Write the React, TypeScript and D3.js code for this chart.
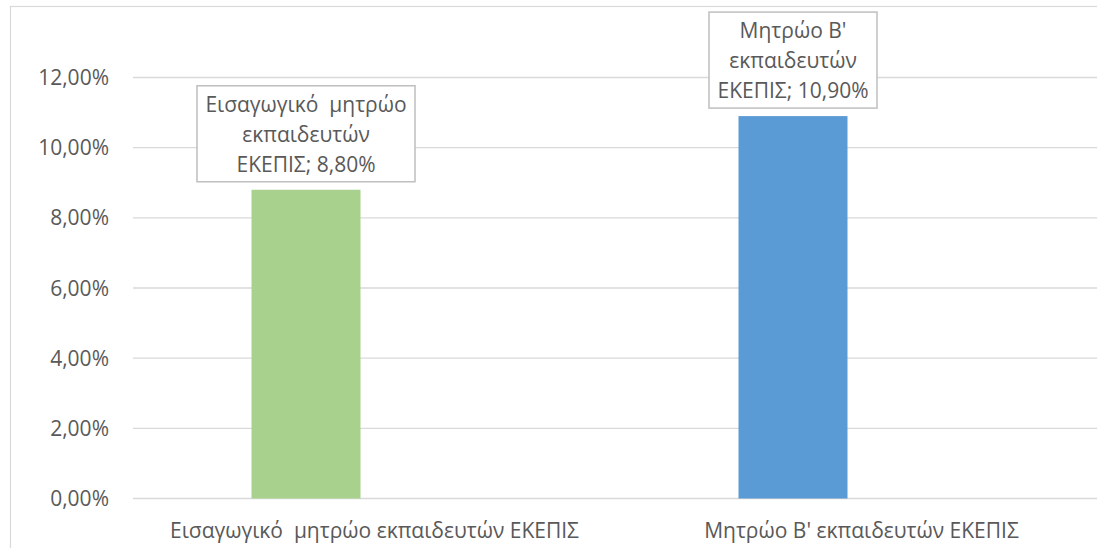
import React from "react";
import * as d3 from "d3";

const categories = ["Εισαγωγικό  μητρώο εκπαιδευτών ΕΚΕΠΙΣ", "Μητρώο B' εκπαιδευτών ΕΚΕΠΙΣ"];
const values = [0.088, 0.109];
const labelLines = [
  ["Εισαγωγικό  μητρώο", "εκπαιδευτών", "ΕΚΕΠΙΣ; 8,80%"],
  ["Μητρώο B'", "εκπαιδευτών", "ΕΚΕΠΙΣ; 10,90%"],
];
const yTicks = [0, 0.02, 0.04, 0.06, 0.08, 0.1, 0.12];
const colors = ["#A9D18E", "#5B9BD5"];

const W = 1097;
const H = 548;
const FONT = "'Open Sans', 'Segoe UI', sans-serif";
const TEXT = "#595959";
const FS = 21;

export default function App() {
  const y = d3.scaleLinear().domain([0, 0.12]).range([498.5, 77.5]);
  const x = d3.scaleBand<string>().domain(categories).range([131, 1105]).padding(0);
  const barW = 109;
  const barShift = -68.5;
  const fmt = (v: number) => (v * 100).toFixed(2).replace(".", ",") + "%";
  const boxW = [218, 168];
  const boxH = 96;

  return (
    <div style={{ position: "absolute", left: 0, top: 0 }}>
      <svg width={W} height={H} style={{ display: "block", fontFamily: FONT }}>
        <rect x={0} y={0} width={W} height={H} fill="#fff" />
        <rect x={10.5} y={6.5} width={W + 10} height={H + 10} fill="none" stroke="#d9d9d9" strokeWidth={1.2} />
        {yTicks.map((t) => (
          <g key={t}>
            <line x1={133} x2={W} y1={y(t)} y2={y(t)} stroke="#d9d9d9" strokeWidth={1.3} />
            <text x={109} y={y(t) + 7.5} textAnchor="end" fontSize={FS} fill={TEXT}>
              {fmt(t)}
            </text>
          </g>
        ))}
        {categories.map((c, i) => {
          const center = (x(c) as number) + x.bandwidth() / 2;
          const cx = center + barShift;
          const top = y(values[i]);
          const bx = cx - boxW[i] / 2;
          const by = top - 8 - boxH;
          return (
            <g key={c}>
              <rect x={cx - barW / 2} y={top} width={barW} height={y(0) - top} fill={colors[i]} />
              <rect x={bx} y={by} width={boxW[i]} height={boxH} fill="#fff" stroke="#bfbfbf" strokeWidth={1.5} />
              {labelLines[i].map((ln, j) => (
                <text
                  key={j}
                  x={cx}
                  y={by + 26 + j * 30}
                  textAnchor="middle"
                  fontSize={FS}
                  fill={TEXT}
                  style={{ whiteSpace: "pre" }}
                >
                  {ln}
                </text>
              ))}
              <text
                x={center}
                y={538}
                textAnchor="middle"
                fontSize={FS}
                fill={TEXT}
                style={{ whiteSpace: "pre" }}
              >
                {c}
              </text>
            </g>
          );
        })}
      </svg>
    </div>
  );
}
